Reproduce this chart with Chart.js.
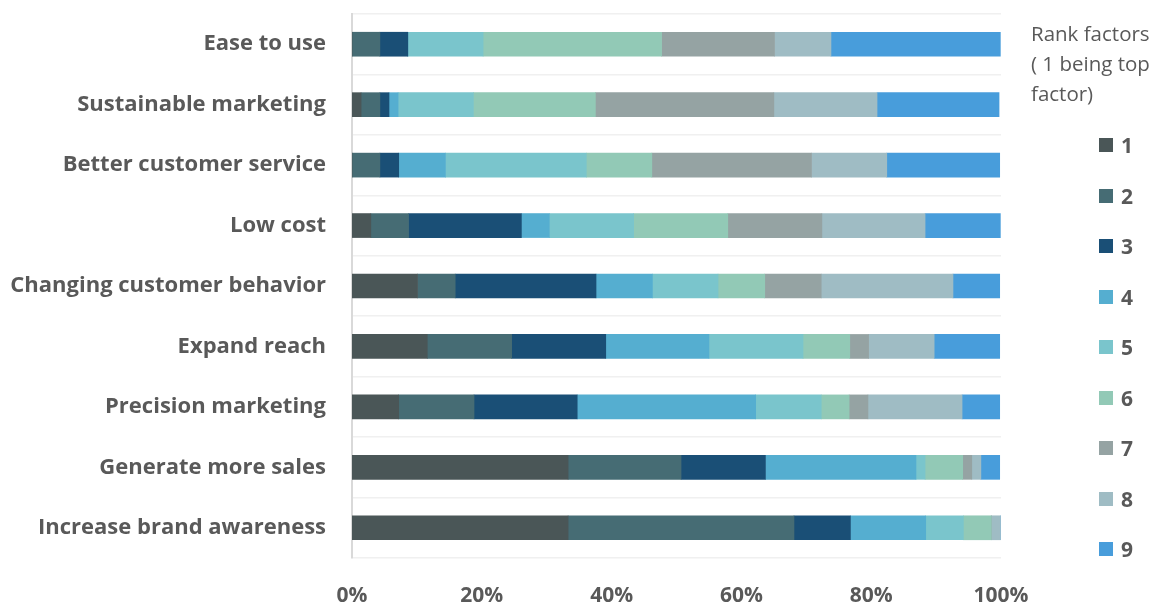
<!DOCTYPE html>
<html>
<head>
<meta charset="utf-8">
<script src="https://cdn.jsdelivr.net/npm/chart.js@4/dist/chart.umd.min.js"></script>
<style>
  html, body { margin: 0; padding: 0; background: #ffffff; }
  #wrap { position: relative; width: 1161px; height: 605px; }
  #chart { position: absolute; left: 0; top: 0; }
  #legend { position: absolute; left: 1031px; top: 18px; font-family: "Open Sans", Lato, sans-serif; color: #595959; }
  #legend .title { font-size: 20.5px; line-height: 30px; white-space: nowrap; }
  #legend ul { list-style: none; margin: 0; padding: 0; position: absolute; left: 68px; top: 102px; }
  #legend li { height: 50.5px; display: flex; align-items: center; font-weight: bold; font-size: 21px; }
  #legend li span.box { display: inline-block; width: 14px; height: 14px; margin-right: 8px; }
</style>
</head>
<body>
<div id="wrap">
  <canvas id="chart" width="1161" height="605"></canvas>
  <div id="legend">
    <div class="title">Rank factors<br>( 1 being top<br>factor)</div>
    <ul id="legendItems"></ul>
  </div>
</div>
<script>
const categories = [
  "Ease to use",
  "Sustainable marketing",
  "Better customer service",
  "Low cost",
  "Changing customer behavior",
  "Expand reach",
  "Precision marketing",
  "Generate more sales",
  "Increase brand awareness"
];
const seriesNames = ["1", "2", "3", "4", "5", "6", "7", "8", "9"];
// percentage of respondents giving each rank
const rank1 = [0, 1.4, 0, 2.9, 10.1, 11.6, 7.2, 33.3, 33.3];
const rank2 = [4.3, 2.9, 4.3, 5.8, 5.8, 13.0, 11.6, 17.4, 34.8];
const rank3 = [4.3, 1.4, 2.9, 17.4, 21.7, 14.5, 15.9, 13.0, 8.7];
const rank4 = [0, 1.4, 7.2, 4.3, 8.7, 15.9, 27.5, 23.2, 11.6];
const rank5 = [11.6, 11.6, 21.7, 13.0, 10.1, 14.5, 10.1, 1.4, 5.8];
const rank6 = [27.5, 18.8, 10.1, 14.5, 7.2, 7.2, 4.3, 5.8, 4.3];
const rank7 = [17.4, 27.5, 24.6, 14.5, 8.7, 2.9, 2.9, 1.4, 0];
const rank8 = [8.7, 15.9, 11.6, 15.9, 20.3, 10.1, 14.5, 1.4, 1.4];
const rank9 = [26.1, 18.8, 17.4, 11.6, 7.2, 10.1, 5.8, 2.9, 0];
const xTicks = [0, 20, 40, 60, 80, 100];

const colors = ["#4a5657", "#466c74", "#1a4f76", "#55aed0", "#7ac5cc", "#92c9b6", "#95a3a3", "#9fbcc4", "#489ddb"];
const seriesData = [rank1, rank2, rank3, rank4, rank5, rank6, rank7, rank8, rank9];

const datasets = seriesNames.map((n, i) => ({
  label: n,
  data: seriesData[i],
  backgroundColor: colors[i],
  borderWidth: 0,
  barThickness: 24
}));

const FONT = '"Open Sans", Lato, sans-serif';

const chart = new Chart(document.getElementById('chart'), {
  type: 'bar',
  data: { labels: categories, datasets },
  options: {
    indexAxis: 'y',
    responsive: false,
    animation: false,
    layout: { padding: { top: 14, right: 160, bottom: 0, left: 0 } },
    plugins: { legend: { display: false }, tooltip: { enabled: false } },
    scales: {
      x: {
        stacked: true,
        min: 0, max: 100,
        afterBuildTicks: (s) => { s.ticks = xTicks.map(v => ({ value: v })); },
        grid: { display: false, drawTicks: false },
        border: { display: false },
        ticks: {
          padding: 25,
          color: '#595959',
          font: { family: FONT, size: 21, weight: 'bold' },
          callback: (v) => v + '%'
        },
        afterFit: (s) => { s.height = 47; s.paddingLeft = 0; s.paddingRight = 0; }
      },
      y: {
        stacked: true,
        grid: { color: '#f0f0f0', lineWidth: 1.5, drawTicks: false, offset: true },
        border: { display: true, color: '#d9d9d9', width: 2 },
        ticks: {
          padding: 26,
          color: '#595959',
          font: { family: FONT, size: 22, weight: 'bold' }
        },
        afterFit: (s) => { s.width = 352; s.paddingTop = 0; s.paddingBottom = 0; }
      }
    }
  }
});

const ul = document.getElementById('legendItems');
chart.data.datasets.forEach(ds => {
  const li = document.createElement('li');
  const box = document.createElement('span');
  box.className = 'box';
  box.style.background = ds.backgroundColor;
  li.appendChild(box);
  li.appendChild(document.createTextNode(ds.label));
  ul.appendChild(li);
});
</script>
</body>
</html>
